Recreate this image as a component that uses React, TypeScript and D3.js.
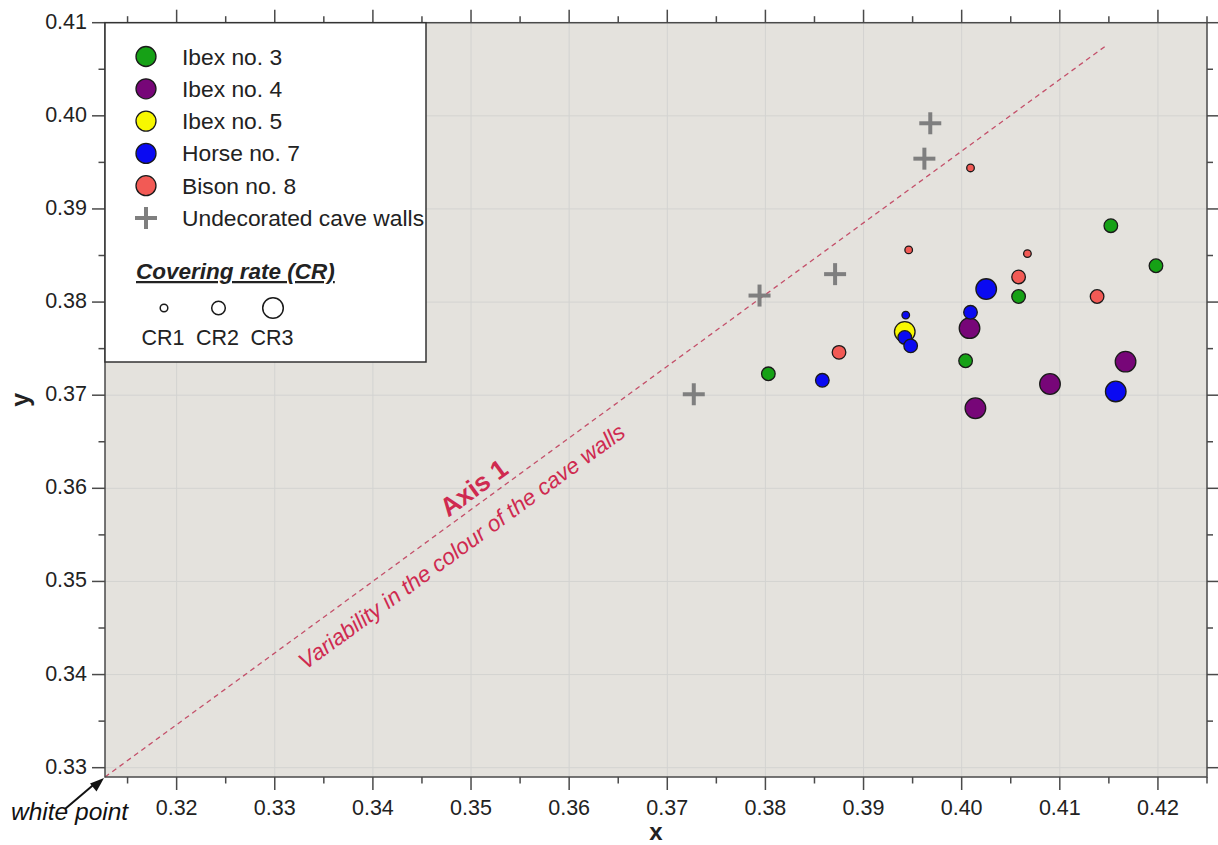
import React from 'react';
import * as d3 from 'd3';

// chromaticity data (x, y, covering rate class)
const ibex3 = [[0.4152, 0.3882, 2], [0.4198, 0.3839, 2], [0.4058, 0.3806, 2], [0.4004, 0.3737, 2], [0.3803, 0.3723, 2]];
const ibex4 = [[0.4008, 0.3772, 3], [0.4090, 0.3712, 3], [0.4014, 0.3686, 3], [0.4167, 0.3736, 3]];
const ibex5 = [[0.3942, 0.3768, 3]];
const horse7 = [[0.4025, 0.3814, 3], [0.3943, 0.3786, 1], [0.4009, 0.3789, 2], [0.3942, 0.3762, 2], [0.3948, 0.3753, 2], [0.3858, 0.3716, 2], [0.4157, 0.3704, 3]];
const bison8 = [[0.4009, 0.3944, 1], [0.3946, 0.3856, 1], [0.4067, 0.3852, 1], [0.4058, 0.3827, 2], [0.4138, 0.3806, 2], [0.3875, 0.3746, 2]];
const walls = [[0.3968, 0.3992], [0.3962, 0.3954], [0.3871, 0.3830], [0.3794, 0.3807], [0.3727, 0.3701]];

const seriesNames = ['Ibex no. 3', 'Ibex no. 4', 'Ibex no. 5', 'Horse no. 7', 'Bison no. 8'];
const seriesColors = ['#16a116', '#770678', '#f7f700', '#0a0af2', '#f25a55'];
const seriesData = [ibex3, ibex4, ibex5, horse7, bison8];
const wallsName = 'Undecorated cave walls';
const crLabels = ['CR1', 'CR2', 'CR3'];

const whitePoint = [0.3127, 0.329];
const axis1End = [0.4148, 0.4076];

const xTicks = [0.32, 0.33, 0.34, 0.35, 0.36, 0.37, 0.38, 0.39, 0.4, 0.41, 0.42];
const xMinor = [0.315, 0.325, 0.335, 0.345, 0.355, 0.365, 0.375, 0.385, 0.395, 0.405, 0.415, 0.425];
const yTicks = [0.33, 0.34, 0.35, 0.36, 0.37, 0.38, 0.39, 0.4, 0.41];
const yMinor = [0.335, 0.345, 0.355, 0.365, 0.375, 0.385, 0.395, 0.405];

const W = 1218;
const H = 845;
const left = 105, right = 1207, top = 22.7, bottom = 777;
const font = 'Liberation Sans, Arial, Helvetica, sans-serif';
const crRadius = { 1: 3.8, 2: 6.8, 3: 10.3 };
const axisColor = '#4a4a4a';
const annoColor = '#cf2a50';

export default function App() {
  const x = d3.scaleLinear().domain([0.3127, 0.425]).range([left, right]);
  const y = d3.scaleLinear().domain([0.329, 0.41]).range([bottom, top]);
  const fmt = d3.format('.2f');

  // Axis 1 geometry
  const x0 = x(whitePoint[0]), y0 = y(whitePoint[1]);
  const x1 = x(axis1End[0]), y1 = y(axis1End[1]);
  const ang = (Math.atan2(y1 - y0, x1 - x0) * 180) / Math.PI;
  const along = (f) => [x0 + (x1 - x0) * f, y0 + (y1 - y0) * f];
  const [ax, ay] = along(0.3775);
  const [vx, vy] = along(0.3417);

  const legendRowY = (i) => 56.5 + i * 32.3;

  return (
    <div style={{ position: 'absolute', left: 0, top: 0 }}>
      <svg width={W} height={H} style={{ display: 'block', fontFamily: font }}>
        <rect x={0} y={0} width={W} height={H} fill="#fff" />
        <rect x={left} y={top} width={right - left} height={bottom - top} fill="#e4e2dd" />
        {/* grid */}
        {xTicks.map((t) => (
          <line key={'gx' + t} x1={x(t)} x2={x(t)} y1={top} y2={bottom} stroke="#d3d3d1" strokeWidth={1} />
        ))}
        {yTicks.map((t) => (
          <line key={'gy' + t} x1={left} x2={right} y1={y(t)} y2={y(t)} stroke="#d3d3d1" strokeWidth={1} />
        ))}

        {/* Axis 1 */}
        <line x1={x0} y1={y0} x2={x1} y2={y1} stroke="#c4506a" strokeWidth={1.3} strokeDasharray="5,4" />
        <text
          transform={`translate(${ax},${ay}) rotate(${ang})`}
          y={-7}
          textAnchor="middle"
          fontSize={26}
          fontWeight="bold"
          fill={annoColor}
        >
          Axis 1
        </text>
        <text
          transform={`translate(${vx},${vy}) rotate(${ang})`}
          y={32}
          textAnchor="middle"
          fontSize={22.5}
          fontStyle="italic"
          fill={annoColor}
        >
          Variability in the colour of the cave walls
        </text>

        {/* data */}
        {seriesData.map((s, si) =>
          s.map((d, i) => (
            <circle
              key={si + '-' + i}
              cx={x(d[0])}
              cy={y(d[1])}
              r={crRadius[d[2]]}
              fill={seriesColors[si]}
              stroke="#1a1a1a"
              strokeWidth={1.3}
            />
          ))
        )}
        {walls.map((d, i) => (
          <g key={'w' + i} transform={`translate(${x(d[0])},${y(d[1])})`} stroke="#7f7f7f" strokeWidth={4}>
            <line x1={-11} x2={11} y1={0} y2={0} />
            <line x1={0} x2={0} y1={-11} y2={11} />
          </g>
        ))}

        {/* frame */}
        <rect x={left} y={top} width={right - left} height={bottom - top} fill="none" stroke={axisColor} strokeWidth={1.5} />

        {/* ticks */}
        {xTicks.map((t) => (
          <g key={'xt' + t}>
            <line x1={x(t)} x2={x(t)} y1={bottom} y2={bottom + 13} stroke={axisColor} strokeWidth={1.5} />
            <line x1={x(t)} x2={x(t)} y1={top} y2={top - 13} stroke={axisColor} strokeWidth={1.5} />
            <text x={x(t)} y={815} textAnchor="middle" fontSize={21.5} fill="#222">
              {fmt(t)}
            </text>
          </g>
        ))}
        {xMinor.map((t) => (
          <g key={'xm' + t}>
            <line x1={x(t)} x2={x(t)} y1={bottom} y2={bottom + 6.5} stroke={axisColor} strokeWidth={1.5} />
            <line x1={x(t)} x2={x(t)} y1={top} y2={top - 6.5} stroke={axisColor} strokeWidth={1.5} />
          </g>
        ))}
        {yTicks.map((t) => (
          <g key={'yt' + t}>
            <line x1={left} x2={left - 13} y1={y(t)} y2={y(t)} stroke={axisColor} strokeWidth={1.5} />
            <line x1={right} x2={right + 12} y1={y(t)} y2={y(t)} stroke={axisColor} strokeWidth={1.5} />
            <text x={87} y={y(t) + 6} textAnchor="end" fontSize={21.5} fill="#222">
              {fmt(t)}
            </text>
          </g>
        ))}
        {yMinor.map((t) => (
          <g key={'ym' + t}>
            <line x1={left} x2={left - 6.5} y1={y(t)} y2={y(t)} stroke={axisColor} strokeWidth={1.5} />
            <line x1={right} x2={right + 6} y1={y(t)} y2={y(t)} stroke={axisColor} strokeWidth={1.5} />
          </g>
        ))}

        {/* axis titles */}
        <text x={(left + right) / 2} y={840} textAnchor="middle" fontSize={24} fontWeight="bold" fill="#222">
          x
        </text>
        <text transform={`translate(29,${(top + bottom) / 2}) rotate(-90)`} textAnchor="middle" fontSize={25} fontWeight="bold" fill="#222">
          y
        </text>

        {/* white point */}
        <line x1={65} y1={809} x2={95} y2={783.5} stroke="#111" strokeWidth={2} />
        <path d={`M${x0 - 1},${y0 + 1} L${x0 - 8.5},${y0 + 14.5} L${x0 - 15},${y0 + 6.5} Z`} fill="#111" />
        <text x={11} y={820} fontSize={24.5} fontStyle="italic" fill="#111">
          white point
        </text>

        {/* legend */}
        <rect x={left} y={top} width={426 - left} height={362 - top} fill="#fff" stroke="#333" strokeWidth={1.5} />
        {seriesNames.map((n, i) => (
          <g key={'lg' + i}>
            <circle cx={146} cy={legendRowY(i)} r={10} fill={seriesColors[i]} stroke="#1a1a1a" strokeWidth={1.3} />
            <text x={182} y={legendRowY(i) + 8} fontSize={22.8} fill="#222">
              {n}
            </text>
          </g>
        ))}
        <g transform={`translate(146,${legendRowY(5)})`} stroke="#7f7f7f" strokeWidth={4}>
          <line x1={-11} x2={11} y1={0} y2={0} />
          <line x1={0} x2={0} y1={-11} y2={11} />
        </g>
        <text x={182} y={legendRowY(5) + 8} fontSize={22.8} fill="#222">
          {wallsName}
        </text>
        <text x={136} y={279} fontSize={22.5} fontWeight="bold" fontStyle="italic" textDecoration="underline" fill="#222">
          Covering rate (CR)
        </text>
        {crLabels.map((c, i) => (
          <g key={c}>
            <circle cx={164 + i * 54.5} cy={308} r={crRadius[i + 1]} fill="#fff" stroke="#1a1a1a" strokeWidth={1.5} />
            <text x={163 + i * 54.5} y={345} textAnchor="middle" fontSize={21.5} fill="#222">
              {c}
            </text>
          </g>
        ))}
      </svg>
    </div>
  );
}
